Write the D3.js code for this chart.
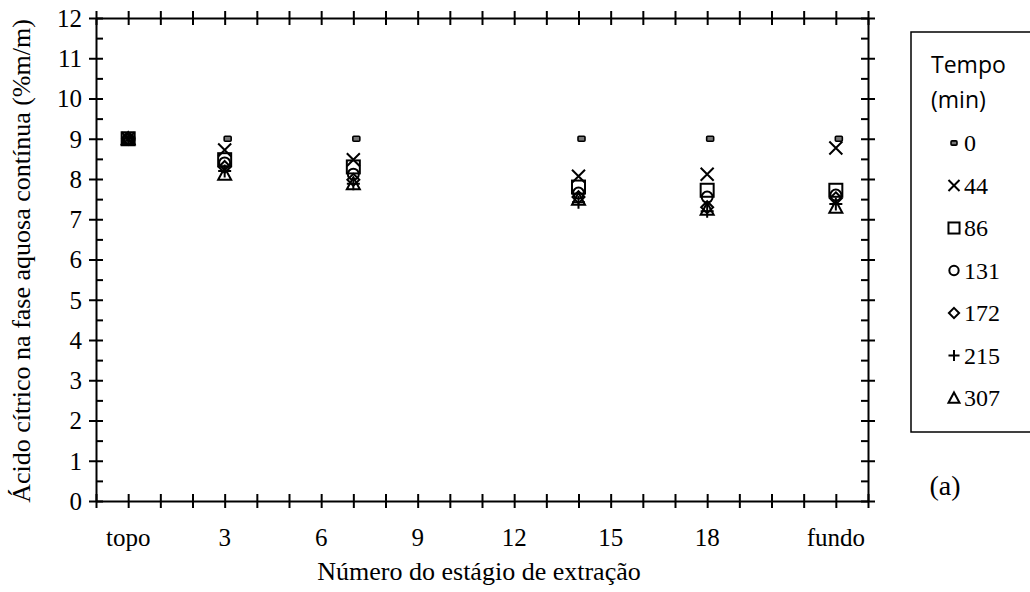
<!DOCTYPE html>
<html>
<head>
<meta charset="utf-8">
<script src="https://cdn.jsdelivr.net/npm/d3@7"></script>
<style>
  html, body { margin: 0; padding: 0; background: #fff; }
  svg { display: block; }
</style>
</head>
<body>
<div id="chart"></div>
<script>
// ---- Data ----
const stages = [0, 3, 7, 14, 18, 22];
const xTickValues = [0, 3, 6, 9, 12, 15, 18, 22];
const xTickLabels = ["topo", "3", "6", "9", "12", "15", "18", "fundo"];
const yTickValues = [0,1,2,3,4,5,6,7,8,9,10,11,12];
const seriesNames = ["0", "44", "86", "131", "172", "215", "307"];
const t0   = [9.0, 9.0, 9.0, 9.0, 9.0, 9.0];
const t44  = [9.0, 8.72, 8.48, 8.07, 8.12, 8.77];
const t86  = [9.0, 8.48, 8.30, 7.80, 7.72, 7.72];
const t131 = [9.0, 8.40, 8.12, 7.65, 7.55, 7.60];
const t172 = [9.0, 8.30, 7.98, 7.55, 7.30, 7.52];
const t215 = [9.0, 8.20, 7.88, 7.42, 7.20, 7.38];
const t307 = [9.0, 8.12, 7.88, 7.50, 7.25, 7.30];
const seriesValues = [t0, t44, t86, t131, t172, t215, t307];
const markerTypes = ["dash", "x", "square", "circle", "diamond", "plus", "triangle"];

// ---- Layout ----
const W = 1030, H = 592;
const svg = d3.select("#chart").append("svg").attr("width", W).attr("height", H);
const x = d3.scaleLinear().domain([-1, 23]).range([96, 868]);
const y = d3.scaleLinear().domain([0, 12]).range([501, 18]);
const serif = "'Liberation Serif','Times New Roman',serif";
const sans = "'Open Sans','Liberation Sans',sans-serif";

// ---- Axes ----
const axisStroke = 2;
function styleAxis(g) {
  g.select(".domain").attr("stroke", "#000").attr("stroke-width", axisStroke);
  g.selectAll(".tick line").attr("stroke", "#000").attr("stroke-width", axisStroke);
}
const allX = d3.range(-1, 24, 1);
const gB = svg.append("g").attr("transform", `translate(0,${y(0)})`)
  .call(d3.axisBottom(x).tickValues(allX).tickSize(7).tickSizeOuter(0).tickFormat(""));
gB.selectAll(".tick line").attr("y1", -7).attr("y2", 7);
styleAxis(gB);
const gT = svg.append("g").attr("transform", `translate(0,${y(12)})`)
  .call(d3.axisTop(x).tickValues(allX).tickSize(7).tickSizeOuter(0).tickFormat(""));
gT.selectAll(".tick line").attr("y1", -7).attr("y2", 7);
styleAxis(gT);
const gL = svg.append("g").attr("transform", `translate(${x(-1)},0)`)
  .call(d3.axisLeft(y).tickValues(yTickValues).tickSize(7).tickSizeOuter(0).tickFormat(""));
gL.selectAll(".tick line").attr("x1", -7).attr("x2", 7);
styleAxis(gL);
const minorY = d3.range(0.5, 12, 1);
const gLm = svg.append("g").attr("transform", `translate(${x(-1)},0)`)
  .call(d3.axisRight(y).tickValues(minorY).tickSize(7).tickSizeOuter(0).tickFormat(""));
gLm.select(".domain").remove();
styleAxis(gLm);
const gR = svg.append("g").attr("transform", `translate(${x(23)},0)`)
  .call(d3.axisRight(y).tickValues(yTickValues).tickSize(7).tickSizeOuter(0).tickFormat(""));
gR.selectAll(".tick line").attr("x1", -7).attr("x2", 7);
styleAxis(gR);
const gRm = svg.append("g").attr("transform", `translate(${x(23)},0)`)
  .call(d3.axisLeft(y).tickValues(minorY).tickSize(7).tickSizeOuter(0).tickFormat(""));
gRm.select(".domain").remove();
styleAxis(gRm);

// tick labels
svg.append("g").selectAll("text").data(yTickValues).join("text")
  .attr("x", 82).attr("y", d => y(d)).attr("dy", "0.35em")
  .attr("text-anchor", "end").attr("font-family", serif).attr("font-size", 25)
  .text(d => d);
svg.append("g").selectAll("text").data(xTickValues).join("text")
  .attr("x", d => x(d)).attr("y", 546)
  .attr("text-anchor", "middle").attr("font-family", serif).attr("font-size", 25)
  .text((d, i) => xTickLabels[i]);

// axis titles
svg.append("text").attr("x", 479).attr("y", 580).attr("text-anchor", "middle")
  .attr("font-family", serif).attr("font-size", 26).text("Número do estágio de extração");
svg.append("text").attr("transform", "translate(30,261) rotate(-90)").attr("text-anchor", "middle")
  .attr("font-family", serif).attr("font-size", 26).text("Ácido cítrico na fase aquosa contínua (%m/m)");

// ---- Markers ----
function drawMarker(g, type, s) {
  const sw = 2;
  if (type === "dash") {
    g.append("rect").attr("x", -3.5 * s).attr("y", -2.5 * s).attr("width", 7 * s).attr("height", 5 * s)
      .attr("rx", 1).attr("fill", "#777").attr("stroke", "#000").attr("stroke-width", 1.6);
  } else if (type === "x") {
    const r = 6.5 * s;
    g.append("path").attr("d", `M${-r},${-r}L${r},${r}M${-r},${r}L${r},${-r}`)
      .attr("stroke", "#000").attr("stroke-width", sw).attr("fill", "none");
  } else if (type === "square") {
    const r = 6.5 * s;
    g.append("rect").attr("x", -r).attr("y", -r).attr("width", 2 * r).attr("height", 2 * r)
      .attr("fill", "none").attr("stroke", "#000").attr("stroke-width", sw);
  } else if (type === "circle") {
    g.append("circle").attr("r", 5.5 * s).attr("fill", "none").attr("stroke", "#000").attr("stroke-width", sw);
  } else if (type === "diamond") {
    const r = 6 * s;
    g.append("path").attr("d", `M0,${-r}L${r},0L0,${r}L${-r},0Z`)
      .attr("fill", "none").attr("stroke", "#000").attr("stroke-width", sw);
  } else if (type === "plus") {
    const r = 6.5 * s;
    g.append("path").attr("d", `M${-r},0L${r},0M0,${-r}L0,${r}`)
      .attr("stroke", "#000").attr("stroke-width", sw).attr("fill", "none");
  } else if (type === "triangle") {
    const r = 6.5 * s;
    g.append("path").attr("d", `M0,${-r}L${r},${r * 0.85}L${-r},${r * 0.85}Z`)
      .attr("fill", "none").attr("stroke", "#000").attr("stroke-width", sw);
  }
}

const plot = svg.append("g");
seriesValues.forEach((vals, si) => {
  const dx = markerTypes[si] === "dash" ? 3 : 0;
  vals.forEach((v, i) => {
    const g = plot.append("g").attr("transform", `translate(${x(stages[i]) + dx},${y(v)})`);
    drawMarker(g, markerTypes[si], 1);
  });
});

// ---- Legend ----
const leg = svg.append("g");
leg.append("rect").attr("x", 911).attr("y", 32).attr("width", 130).attr("height", 400)
  .attr("fill", "#fff").attr("stroke", "#000").attr("stroke-width", 1.5);
leg.append("text").attr("x", 931).attr("y", 73).attr("font-family", sans).attr("font-size", 23).text("Tempo");
leg.append("text").attr("x", 931).attr("y", 108).attr("font-family", sans).attr("font-size", 23).text("(min)");
seriesNames.forEach((name, i) => {
  const cy = 143 + i * 42.5;
  const g = leg.append("g").attr("transform", `translate(954,${cy})`);
  drawMarker(g, markerTypes[i], 0.85);
  leg.append("text").attr("x", 964).attr("y", cy).attr("dy", "0.35em")
    .attr("font-family", serif).attr("font-size", 24).text(name);
});

svg.append("text").attr("x", 945).attr("y", 495).attr("text-anchor", "middle")
  .attr("font-family", serif).attr("font-size", 28).text("(a)");
</script>
</body>
</html>
